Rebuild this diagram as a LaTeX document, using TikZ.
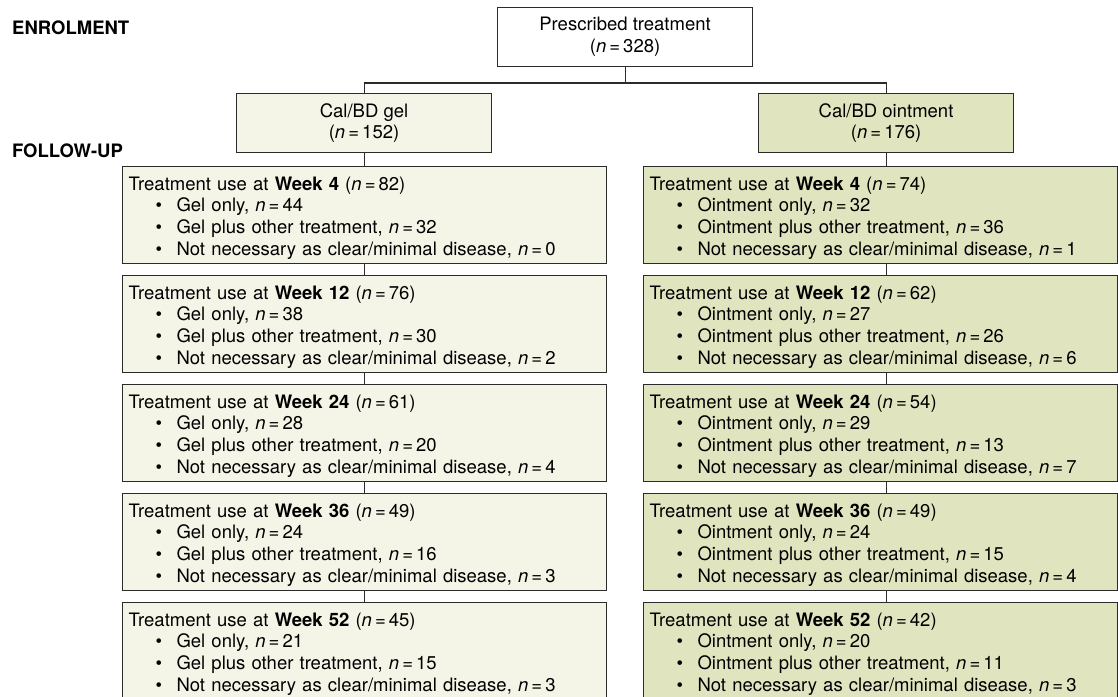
\documentclass[tikz,border=0pt]{standalone}
\usepackage{fontspec}
\setmainfont{TeX Gyre Heros}
\definecolor{gelfill}{HTML}{F4F5E7}
\definecolor{ointfill}{HTML}{E1E5BF}
\definecolor{edge}{HTML}{2B2B2B}
\newcommand{\nis}{\textit{n}\,=\,}
\newcommand{\bull}[1]{\\\hspace*{27pt}\textbullet\hspace*{14.5pt}#1}
\newcommand{\wk}[2]{\rule{0pt}{19.5pt}Treatment use at \textbf{Week #1} (\nis #2)}

\begin{document}
\begin{tikzpicture}[x=1pt,y=-1pt,
    every node/.style={font=\fontsize{18.5}{21.7}\selectfont},
    box/.style={draw=edge,line width=1.1pt,minimum width=255pt,minimum height=59pt,align=center,anchor=north west},
    weekbox/.style={draw=edge,line width=1.1pt,minimum height=97pt,inner xsep=6pt,align=left,anchor=north west},
    link/.style={draw=edge,line width=1.1pt}]
   \useasboundingbox (0,0) rectangle (1118,696);
   % phase labels
   \node[anchor=base west,inner sep=0pt] (enrol)  at (12,34)  {\textbf{ENROLMENT}};
   \node[anchor=base west,inner sep=0pt] (follow) at (12,157) {\textbf{FOLLOW-UP}};
   % enrolment and arms
   \node[box,fill=white]    (presc) at (497,7)  {Prescribed treatment\\(\nis 328)};
   \node[box,fill=gelfill]  (gel)   at (236,93) {Cal/BD gel\\(\nis 152)};
   \node[box,fill=ointfill] (oint)  at (758,93) {Cal/BD ointment\\(\nis 176)};
   \coordinate (split) at (624.5,83);
   % gel follow-up
   \node[weekbox,fill=gelfill,text width=472pt] (gelA) at (122,166)
      {\wk{4}{82}\bull{Gel only, \nis 44}\bull{Gel plus other treatment, \nis 32}\bull{Not necessary as clear/minimal disease, \nis 0}};
   \node[weekbox,fill=gelfill,text width=472pt] (gelB) at (122,275)
      {\wk{12}{76}\bull{Gel only, \nis 38}\bull{Gel plus other treatment, \nis 30}\bull{Not necessary as clear/minimal disease, \nis 2}};
   \node[weekbox,fill=gelfill,text width=472pt] (gelC) at (122,384)
      {\wk{24}{61}\bull{Gel only, \nis 28}\bull{Gel plus other treatment, \nis 20}\bull{Not necessary as clear/minimal disease, \nis 4}};
   \node[weekbox,fill=gelfill,text width=472pt] (gelD) at (122,493)
      {\wk{36}{49}\bull{Gel only, \nis 24}\bull{Gel plus other treatment, \nis 16}\bull{Not necessary as clear/minimal disease, \nis 3}};
   \node[weekbox,fill=gelfill,text width=472pt] (gelE) at (122,602)
      {\wk{52}{45}\bull{Gel only, \nis 21}\bull{Gel plus other treatment, \nis 15}\bull{Not necessary as clear/minimal disease, \nis 3}};
   % ointment follow-up
   \node[weekbox,fill=ointfill,text width=462pt] (ointA) at (643,166)
      {\wk{4}{74}\bull{Ointment only, \nis 32}\bull{Ointment plus other treatment, \nis 36}\bull{Not necessary as clear/minimal disease, \nis 1}};
   \node[weekbox,fill=ointfill,text width=462pt] (ointB) at (643,275)
      {\wk{12}{62}\bull{Ointment only, \nis 27}\bull{Ointment plus other treatment, \nis 26}\bull{Not necessary as clear/minimal disease, \nis 6}};
   \node[weekbox,fill=ointfill,text width=462pt] (ointC) at (643,384)
      {\wk{24}{54}\bull{Ointment only, \nis 29}\bull{Ointment plus other treatment, \nis 13}\bull{Not necessary as clear/minimal disease, \nis 7}};
   \node[weekbox,fill=ointfill,text width=462pt] (ointD) at (643,493)
      {\wk{36}{49}\bull{Ointment only, \nis 24}\bull{Ointment plus other treatment, \nis 15}\bull{Not necessary as clear/minimal disease, \nis 4}};
   \node[weekbox,fill=ointfill,text width=462pt] (ointE) at (643,602)
      {\wk{52}{42}\bull{Ointment only, \nis 20}\bull{Ointment plus other treatment, \nis 11}\bull{Not necessary as clear/minimal disease, \nis 3}};
   % connectors
   \draw[link] (presc.south) -- (presc.south |- split);
   \draw[link] (gel.north) -- (gel.north |- split) -- (oint.north |- split) -- (oint.north);
   \draw[link] (gel.south) -- (gel.south |- gelA.north);
   \draw[link] (gel.south |- gelA.south) -- (gel.south |- gelB.north);
   \draw[link] (gel.south |- gelB.south) -- (gel.south |- gelC.north);
   \draw[link] (gel.south |- gelC.south) -- (gel.south |- gelD.north);
   \draw[link] (gel.south |- gelD.south) -- (gel.south |- gelE.north);
   \draw[link] (oint.south) -- (oint.south |- ointA.north);
   \draw[link] (oint.south |- ointA.south) -- (oint.south |- ointB.north);
   \draw[link] (oint.south |- ointB.south) -- (oint.south |- ointC.north);
   \draw[link] (oint.south |- ointC.south) -- (oint.south |- ointD.north);
   \draw[link] (oint.south |- ointD.south) -- (oint.south |- ointE.north);
\end{tikzpicture}
\end{document}
